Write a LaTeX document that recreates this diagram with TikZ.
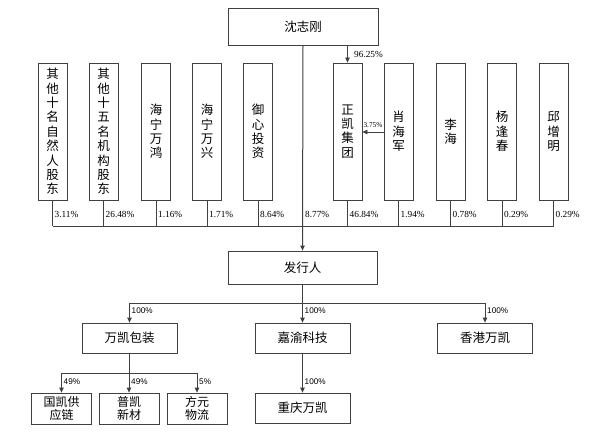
\documentclass[tikz,border=0pt]{standalone}
\usepackage{fontspec}
\newfontfamily\cjk{Noto Sans CJK SC}
\newfontfamily\pctserif{Liberation Serif}
\newfontfamily\pctsans{Liberation Sans}
\usetikzlibrary{arrows.meta,positioning}
\begin{document}
\begin{tikzpicture}[x=1pt,y=-1pt,
  conn/.style={draw=black!75, line width=0.8pt},
  arr/.style={conn, -{Triangle[length=5pt,width=4.5pt]}},
  box/.style={draw=black!75, line width=0.8pt, fill=white, inner sep=0pt, align=center,
    font=\cjk\fontsize{12.5}{15}\selectfont},
  tallbox/.style={box, minimum width=29pt, minimum height=137pt,
    font=\cjk\fontsize{12.5}{14.4}\selectfont},
  wbox/.style={box, minimum width=150pt, minimum height=37pt},
  ibox/.style={box, minimum width=149pt, minimum height=33pt},
  midbox/.style={box, minimum width=95pt, minimum height=30pt},
  smallbox/.style={box, minimum width=60pt, minimum height=31pt,
    font=\cjk\fontsize{12}{13.5}\selectfont},
  pct/.style={font=\pctserif\fontsize{9.3}{10}\selectfont, inner sep=0pt},
  pcts/.style={font=\pctsans\fontsize{8.2}{9}\selectfont, inner sep=0pt},
]
\useasboundingbox (0,0) rectangle (600,436);
\fill[white] (0,0) rectangle (600,436);

% top
\node[wbox] (top) at (303,26.5) {沈志刚};

% shareholders
\node[tallbox] (s1) at (52.5,131.5) {其\\他\\十\\名\\自\\然\\人\\股\\东};
\node[tallbox] (s2) at (103.5,131.5) {其\\他\\十\\五\\名\\机\\构\\股\\东};
\node[tallbox] (s3) at (156,131.5) {海\\宁\\万\\鸿};
\node[tallbox] (s4) at (207,131.5) {海\\宁\\万\\兴};
\node[tallbox] (s5) at (258,131.5) {御\\心\\投\\资};
\node[tallbox] (s6) at (347.5,131.5) {正\\凯\\集\\团};
\node[tallbox] (s7) at (398.5,131.5) {肖\\海\\军};
\node[tallbox] (s8) at (450.5,131.5) {李\\海};
\node[tallbox] (s9) at (502,131.5) {杨\\逢\\春};
\node[tallbox] (s10) at (553.5,131.5) {邱\\增\\明};

% issuer
\node[ibox] (iss) at (302.5,267.5) {发行人};

% subsidiaries
\node[midbox] (wk) at (129.5,338) {万凯包装};
\node[midbox] (jy) at (302.5,338) {嘉渝科技};
\node[midbox] (hk) at (485,338) {香港万凯};
\node[midbox] (cq) at (302.5,408) {重庆万凯};
\node[smallbox] (gk) at (61.5,408.5) {国凯供\\应链};
\node[smallbox] (pk) at (129,408.5) {普凯\\新材};
\node[smallbox] (fy) at (197,408.5) {方元\\物流};

% helper coordinates
\coordinate (hl) at (0,226);
\coordinate (lab) at (0,214);
\coordinate (ax) at (0,132);
\coordinate (b1) at (0,303);
\coordinate (b2) at (0,373);
\coordinate (lb1) at (0,311);
\coordinate (lb2) at (0,382);

% top arrows
\draw[arr] (top.south -| s6.north) -- (s6.north);
\node[pct, anchor=west] (p9625) at (354,54) {96.25\%};
\draw[arr] (s7.west |- ax) -- (s6.east |- ax);
\node[font=\pctserif\fontsize{7.3}{8}\selectfont, inner sep=0pt] (p375) at (373,125) {3.75\%};

% shareholder lines
\foreach \s in {s1,s2,s3,s4,s5,s6,s7,s8,s9,s10}
  \draw[conn] (\s.south) -- (\s.south |- hl);
\draw[conn] (s1.south |- hl) -- (s10.south |- hl);
\draw[arr, line width=1pt] (top.south) -- (iss.north);

\node[pct, anchor=west] (p1) at ([xshift=2pt]s1.south |- lab) {3.11\%};
\node[pct, anchor=west] (p2) at ([xshift=2pt]s2.south |- lab) {26.48\%};
\node[pct, anchor=west] (p3) at ([xshift=2pt]s3.south |- lab) {1.16\%};
\node[pct, anchor=west] (p4) at ([xshift=2pt]s4.south |- lab) {1.71\%};
\node[pct, anchor=west] (p5) at ([xshift=2pt]s5.south |- lab) {8.64\%};
\node[pct, anchor=west] (pm) at ([xshift=2pt]top.south |- lab) {8.77\%};
\node[pct, anchor=west] (p6) at ([xshift=2pt]s6.south |- lab) {46.84\%};
\node[pct, anchor=west] (p7) at ([xshift=2pt]s7.south |- lab) {1.94\%};
\node[pct, anchor=west] (p8) at ([xshift=2pt]s8.south |- lab) {0.78\%};
\node[pct, anchor=west] (p9) at ([xshift=2pt]s9.south |- lab) {0.29\%};
\node[pct, anchor=west] (p10) at ([xshift=2pt]s10.south |- lab) {0.29\%};

% issuer to subsidiaries
\draw[conn] (iss.south) -- (iss.south |- b1);
\draw[conn] (wk.north |- b1) -- (hk.north |- b1);
\draw[arr] (wk.north |- b1) -- (wk.north);
\draw[arr] (jy.north |- b1) -- (jy.north);
\draw[arr] (hk.north |- b1) -- (hk.north);
\node[pcts, anchor=west] (l1) at ([xshift=2pt]wk.north |- lb1) {100\%};
\node[pcts, anchor=west] (l2) at ([xshift=2pt]jy.north |- lb1) {100\%};
\node[pcts, anchor=west] (l3) at ([xshift=2pt]hk.north |- lb1) {100\%};

\draw[arr] (jy.south) -- (cq.north);
\node[pcts, anchor=west] (l4) at ([xshift=2pt]cq.north |- lb2) {100\%};

\draw[conn] (wk.south) -- (wk.south |- b2);
\draw[conn] (gk.north |- b2) -- (fy.north |- b2);
\draw[arr] (gk.north |- b2) -- (gk.north);
\draw[arr] (pk.north |- b2) -- (pk.north);
\draw[arr] (fy.north |- b2) -- (fy.north);
\node[pcts, anchor=west] (l5) at ([xshift=2pt]gk.north |- lb2) {49\%};
\node[pcts, anchor=west] (l6) at ([xshift=2pt]pk.north |- lb2) {49\%};
\node[pcts, anchor=west] (l7) at ([xshift=2pt]fy.north |- lb2) {5\%};
\end{tikzpicture}
\end{document}
